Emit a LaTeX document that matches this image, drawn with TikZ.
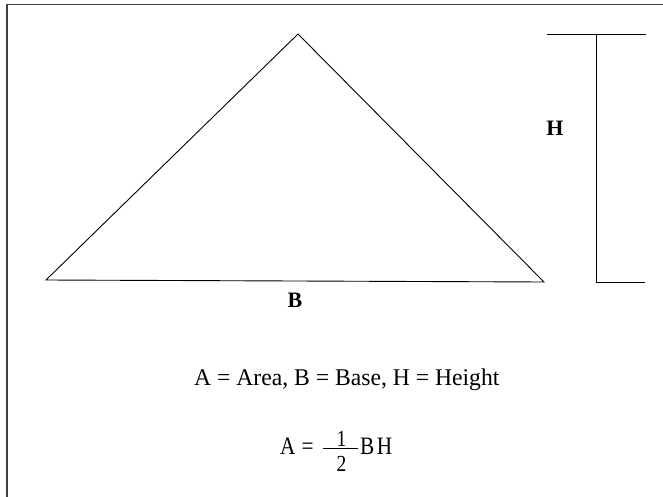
\documentclass[tikz,border=0pt]{standalone}
\usepackage{fontspec}
\setmainfont{Liberation Serif}
\newfontfamily\legfont[FakeStretch=0.985]{Liberation Serif}
\newfontfamily\condfont[FakeStretch=0.85]{Liberation Serif}
\begin{document}
\begin{tikzpicture}[x=1pt,y=-1pt,
  edge/.style={line width=0.9pt,black},
  frame/.style={line width=1.1pt,black!75},
  lbl/.style={inner sep=0pt,font=\fontsize{22}{25}\selectfont\bfseries},
  txt/.style={inner sep=0pt,font=\legfont\fontsize{24}{27}\selectfont},
  ftxt/.style={inner sep=0pt,font=\condfont\fontsize{25}{28}\selectfont},
  fnum/.style={inner sep=0pt,font=\condfont\fontsize{23}{26}\selectfont}]
\useasboundingbox (0,0) rectangle (663,497);
% frame (top and left sides)
\coordinate (fr1) at (7,500);
\coordinate (fr2) at (7,4.5);
\coordinate (fr3) at (666,4.5);
\draw[frame] (fr1) -- (fr2) -- (fr3);
% triangle
\coordinate (tl) at (46,280);
\coordinate (tt) at (298,34);
\coordinate (tr) at (544,282);
\draw[edge] (tl) -- (tt) -- (tr) -- cycle;
% height bracket
\coordinate (h1) at (547,34);
\coordinate (h2) at (646,34);
\coordinate (hv) at (596,34);
\coordinate (hb) at (596,282);
\coordinate (hb2) at (645,282);
\draw[edge] (h1) -- (h2);
\draw[edge] (hv) -- (hb) -- (hb2);
% labels
\node[lbl] (H) at (555,128) {H};
\node[lbl] (B) at (295,300) {B};
% legend
\node[txt,anchor=base west] (leg) at (194,385) {A = Area, B = Base, H = Height};
% formula
\node[ftxt,anchor=base west] (fa) at (280,454) {A};
\node[ftxt,anchor=base west] (feq) at (301.5,454) {=};
\coordinate (bar1) at (323,448);
\coordinate (bar2) at (358,448);
\draw[line width=0.6pt] (bar1) -- (bar2);
\node[fnum,anchor=base] (num) at (341.5,446.5) {1};
\node[fnum,anchor=base] (den) at (341.5,471) {2};
\node[ftxt,anchor=base west] (bh) at (360,454) {B\kern2.5ptH};
\end{tikzpicture}
\end{document}
